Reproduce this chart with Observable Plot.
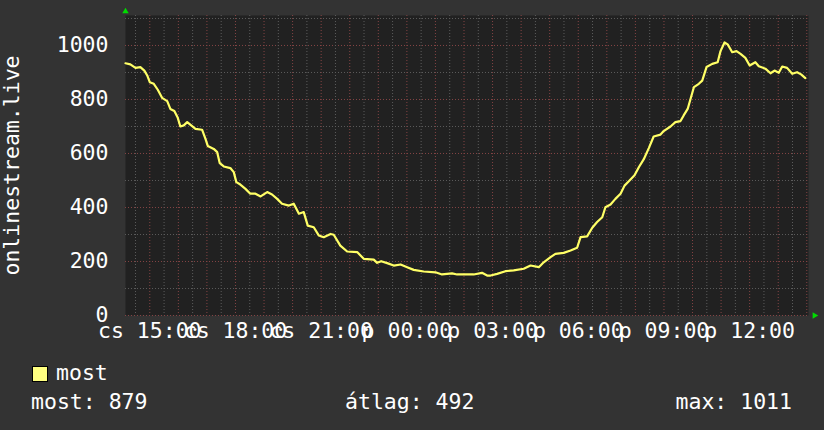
<!DOCTYPE html>
<html><head><meta charset="utf-8">
<script src="https://cdn.jsdelivr.net/npm/d3@7"></script>
<script src="https://cdn.jsdelivr.net/npm/@observablehq/plot@0.6"></script>
<style>
html,body{margin:0;padding:0;background:#333333;}
#wrap{position:relative;width:824px;height:430px;background:#333333;font-family:"DejaVu Sans Mono",monospace;color:#ffffff;font-size:21.5px;overflow:hidden;}
#chart{position:absolute;left:0;top:0;}
.lg{position:absolute;line-height:21px;white-space:pre;}
.sw{position:absolute;left:32px;top:366px;width:14px;height:14px;background:#ffff80;border:1px solid #000;}
</style></head><body>
<div id="wrap"><div id="chart"></div>
<div class="sw"></div>
<div class="lg" id="seriesName" style="left:56px;top:362px"></div>
<div class="lg" id="stat0" style="left:31px;top:391px"></div>
<div class="lg" id="stat1" style="left:345px;top:391px"></div>
<div class="lg" id="stat2" style="right:32px;top:391px;text-align:right"></div>
</div>
<script>
// hours since Thursday (cs) 00:00
const hours = [
  14.15,14.32,14.50,14.67,14.81,14.91,15.00,15.14,15.28,15.43,
  15.61,15.72,15.86,15.98,16.07,16.19,16.31,16.45,16.60,16.83,
  16.95,17.03,17.24,17.36,17.45,17.59,17.82,17.94,18.03,18.17,
  18.35,18.52,18.70,18.88,19.11,19.28,19.46,19.63,19.87,20.04,
  20.22,20.39,20.53,20.74,20.92,21.09,21.33,21.44,21.67,21.91,
  22.26,22.49,22.84,22.96,23.10,23.31,23.54,23.78,24.01,24.24,
  24.59,25.00,25.23,25.58,25.76,26.34,26.63,26.81,26.93,27.16,
  27.45,27.74,28.09,28.33,28.62,28.79,29.03,29.20,29.49,29.73,
  29.96,30.08,30.31,30.49,30.66,30.84,30.95,31.13,31.30,31.48,
  31.62,31.77,31.97,32.12,32.29,32.47,32.64,32.88,32.99,33.23,
  33.40,33.58,33.69,33.83,33.93,34.05,34.22,34.34,34.49,34.69,
  34.88,34.98,35.12,35.23,35.39,35.54,35.68,35.85,36.00,36.20,
  36.32,36.55,36.73,36.87,37.02,37.14,37.31,37.49,37.66,37.80,37.95
];
const values = [
  934,930,917,920,907,889,864,858,836,806,
  794,765,757,732,700,704,716,704,691,688,
  654,628,617,605,564,552,546,531,494,485,
  469,451,451,441,457,448,432,414,407,414,
  377,383,333,327,296,290,302,299,259,237,
  235,210,207,195,201,194,185,189,179,169,
  163,160,152,156,152,152,158,148,148,154,
  164,167,173,185,179,197,216,228,232,241,
  251,290,293,325,346,364,401,411,432,451,
  481,497,519,549,578,620,663,670,683,700,
  716,720,741,765,802,846,858,870,920,932,
  938,979,1011,1004,975,979,969,954,926,938,
  923,914,897,907,899,922,917,895,901,893,879
];
const xTickHours = [15,18,21,24,27,30,33,36];
const xTickLabels = ["cs 15:00","cs 18:00","cs 21:00","p 00:00","p 03:00","p 06:00","p 09:00","p 12:00"];
const yTicks = [0,200,400,600,800,1000];
const yMinor = [100,300,500,700,900,1100];
const yLabel = "onlinestream.live";
const xDomainHours = [14.15, 38.06];
const yDomain = [0, 1111];
const seriesName = "most";
const statLabels = ["most","átlag","max"];
const statValues = [879,492,1011];

const base = Date.UTC(2024,0,4);
const t = h => new Date(base + h*3600e3);
const data = hours.map((h,i)=>({time:t(h), value:values[i]}));
const halfHours = d3.range(14.5, 38.01, 0.5);
const vMinor = halfHours.filter(h=>h%1!==0).map(t);
const vMajor = halfHours.filter(h=>h%1===0).map(t);
const labelByTime = new Map(xTickHours.map((h,i)=>[+t(h), xTickLabels[i]]));
const gridGrey = "#5c5c5c", gridRed = "#844444";

const chart = Plot.plot({
  width:824, height:345,
  marginLeft:125, marginRight:16, marginTop:15, marginBottom:30,
  style:{background:"transparent", fontFamily:"DejaVu Sans Mono", fontSize:"21.5px", color:"#ffffff", overflow:"visible"},
  x:{type:"utc", domain:xDomainHours.map(t)},
  y:{domain:yDomain},
  marks:[
    Plot.frame({fill:"#212121", stroke:null}),
    Plot.ruleY(yMinor, {stroke:gridGrey, strokeDasharray:"1,2"}),
    Plot.ruleY(yTicks, {stroke:gridRed, strokeDasharray:"1,2"}),
    Plot.ruleX(vMinor, {stroke:gridGrey, strokeDasharray:"1,2"}),
    Plot.ruleX(vMajor, {stroke:gridRed, strokeDasharray:"1,2"}),
    Plot.line(data, {x:"time", y:"value", stroke:"#ffff66", strokeWidth:2.2}),
    Plot.axisY(yTicks, {tickSize:0, tickPadding:17, tickFormat:d=>String(d), fill:"#ffffff", label:null}),
    Plot.axisX(xTickHours.map(t), {tickSize:0, tickPadding:7, tickFormat:d=>labelByTime.get(+d), fill:"#ffffff", label:null}),
    Plot.text([yLabel], {text:d=>d, frameAnchor:"left", textAnchor:"middle", rotate:-90, dx:-113, fill:"#ffffff"}),
    Plot.dot([0], {frameAnchor:"top-left", dy:-4, symbol:"triangle", r:2.4, fill:"#00dd00", stroke:null}),
    Plot.dot([0], {frameAnchor:"bottom-right", dx:6, symbol:"triangle", rotate:90, r:2.4, fill:"#00dd00", stroke:null})
  ]
});
document.getElementById("chart").appendChild(chart);
document.getElementById("seriesName").textContent = seriesName;
statLabels.forEach((l,i)=>{ document.getElementById("stat"+i).textContent = l + ": " + statValues[i]; });
</script>
</body></html>
